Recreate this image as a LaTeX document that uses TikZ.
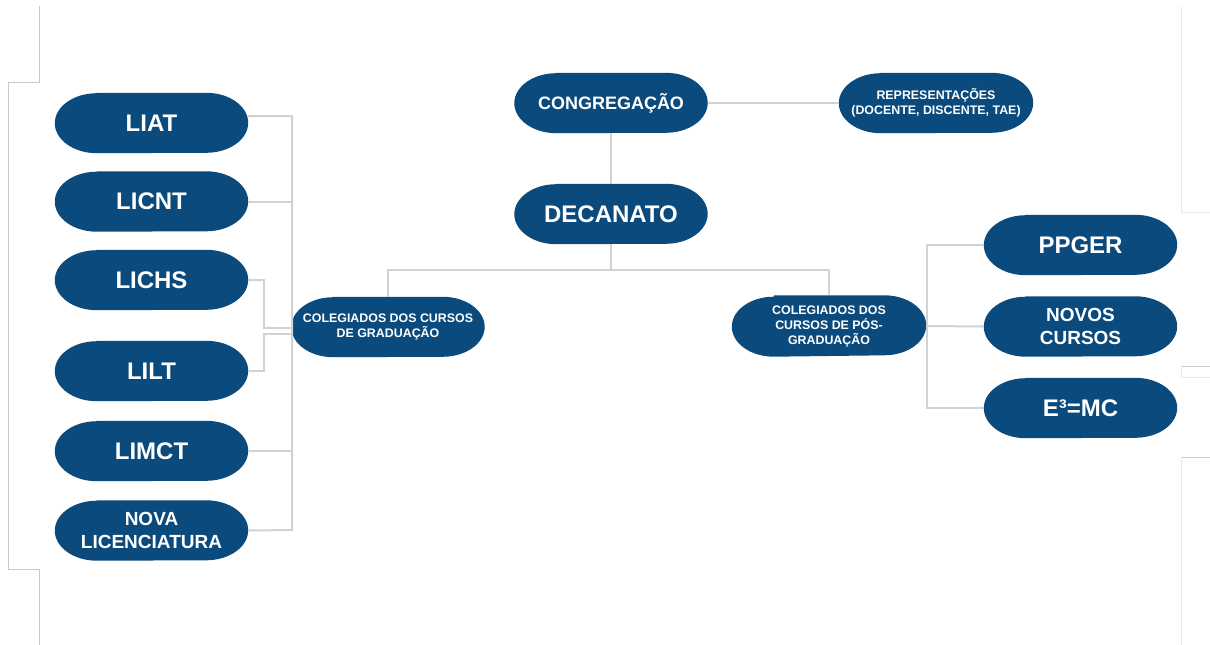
\documentclass[tikz,border=0pt]{standalone}
\usepackage{fontspec}
\setmainfont{Liberation Sans}
\usetikzlibrary{backgrounds}
\definecolor{nodeblue}{HTML}{0B4A7C}
\definecolor{linkgray}{HTML}{D2D2D2}
\definecolor{edgegray}{HTML}{C8C8C8}
\definecolor{faintgray}{HTML}{EAEAEA}
\tikzset{
  pill/.style={draw=none, fill=none, minimum width=193pt,
    minimum height=60pt, inner sep=0pt, align=center, text=white, font=\bfseries},
  big/.style={font=\fontsize{24}{27}\selectfont\bfseries},
  mid/.style={font=\fontsize{19}{23}\selectfont\bfseries},
  cong/.style={font=\fontsize{18}{21}\selectfont\bfseries},
  small/.style={font=\fontsize{12.4}{15}\selectfont\bfseries},
  link/.style={draw=linkgray, line width=2pt},
  edge/.style={draw=edgegray, line width=1pt},
  faint/.style={draw=faintgray, line width=1pt}
}
\begin{document}
\begin{tikzpicture}[x=1pt, y=-1pt]
\useasboundingbox (0,0) rectangle (1210,645);
% frame remnants
\draw[edge] (39,6) -- (39,82) -- (8,82) -- (8,569) -- (39,569) -- (39,645);
\draw[faint] (1181,6) -- (1181,212) -- (1210,212);
\draw[edge] (1181,366) -- (1210,366);
\draw[faint] (1181,366) -- (1181,377) -- (1210,377);
\draw[edge] (1181,457) -- (1210,457);
\draw[faint] (1181,457) -- (1181,645);

% nodes
\node[pill, cong] (cong) at (611,103) {CONGREGAÇÃO};
\node[pill, small, minimum width=194pt] (rep) at (936,103) {REPRESENTAÇÕES\\(DOCENTE, DISCENTE, TAE)};
\node[pill, big] (dec) at (611,214) {DECANATO};
\node[pill, small] (grad) at (388,327) {COLEGIADOS DOS CURSOS\\DE GRADUAÇÃO};
\node[pill, small, minimum width=194pt, minimum height=61pt] (pos) at (829,326) {COLEGIADOS DOS\\CURSOS DE PÓS-\\GRADUAÇÃO};

\node[pill, big] (liat)  at (151.5,123) {LIAT};
\node[pill, big] (licnt) at (151.5,201.5) {LICNT};
\node[pill, big] (lichs) at (151.5,280) {LICHS};
\node[pill, big] (lilt)  at (151.5,371) {LILT};
\node[pill, big] (limct) at (151.5,451) {LIMCT};
\node[pill, mid] (nova)  at (151.5,530.5) {NOVA\\LICENCIATURA};

\node[pill, big] (ppger) at (1080.5,245) {PPGER};
\node[pill, mid] (novos) at (1080.5,326.5) {NOVOS\\CURSOS};
\node[pill, big] (e3)    at (1080.5,408) {E³=MC};

% pill bodies with elliptical ends
\begin{scope}[on background layer]
\foreach \n in {cong,rep,dec,grad,pos,liat,licnt,lichs,lilt,limct,nova,ppger,novos,e3}{
  \fill[nodeblue] ([xshift=42pt]\n.north west) -- ([xshift=-42pt]\n.north east)
    arc[start angle=90, end angle=-90, x radius=42pt, y radius=30pt]
    -- ([xshift=42pt]\n.south west)
    arc[start angle=270, end angle=90, x radius=42pt, y radius=30pt] -- cycle;
}
\end{scope}

% connectors
\coordinate (bus) at (610,270);
\coordinate (lbus) at (292,530);
\coordinate (kink) at (264,0);
\coordinate (rbus) at (927,0);

\draw[link] (cong.south) -- (dec.north);
\draw[link] (cong.east) -- (rep.west);
\draw[link] (dec.south) -- (dec.south |- bus);
\draw[link] (grad.north) |- (bus) -| (pos.north);

\draw[link] ([yshift=7pt]liat.east) -| (lbus) -- (nova.east);
\draw[link] (licnt.east) -- (licnt.east -| lbus);
\draw[link] (limct.east) -- (limct.east -| lbus);
\draw[link] (lichs.east) -| ([yshift=-1pt]grad.west -| kink) -- ([yshift=-1pt]grad.west);
\draw[link] (lilt.east) -| ([yshift=-7pt]grad.west -| kink) -- ([yshift=-7pt]grad.west);

\draw[link] (ppger.west) -| (rbus |- e3.west) -- (e3.west);
\draw[link] (pos.east) -- (novos.west);
\end{tikzpicture}
\end{document}
